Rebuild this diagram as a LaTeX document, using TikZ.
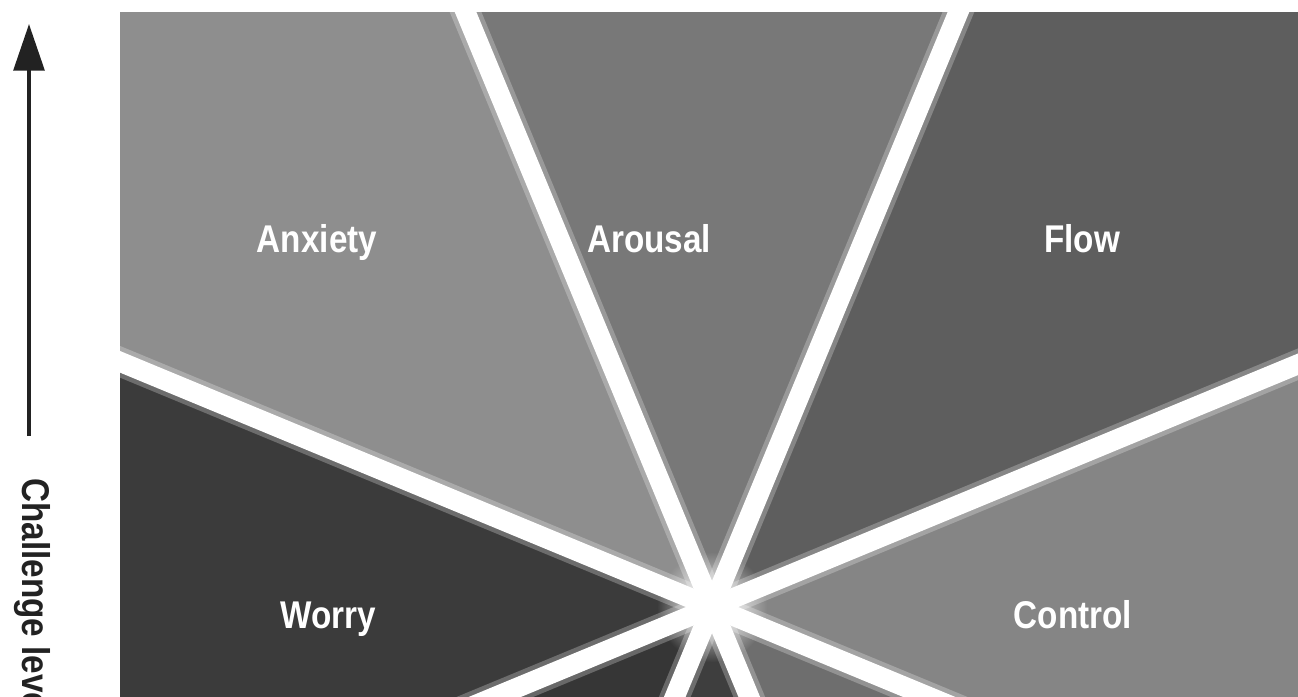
\documentclass[tikz,border=0pt]{standalone}
\usepackage{fontspec}
\newfontfamily\labfont{Liberation Sans}[FakeStretch=0.86]
\usetikzlibrary{arrows.meta,fadings}
\definecolor{cAnx}{HTML}{8E8E8E}
\definecolor{cAro}{HTML}{787878}
\definecolor{cFlow}{HTML}{5E5E5E}
\definecolor{cCtl}{HTML}{858585}
\definecolor{cWor}{HTML}{3B3B3B}
\definecolor{cSW}{HTML}{363636}
\definecolor{cS}{HTML}{3E3E3E}
\definecolor{cSE}{HTML}{6E6E6E}
\definecolor{ink}{HTML}{222222}
\tikzfading[name=glowfade, inner color=transparent!0, outer color=transparent!100]
\tikzset{
  lab/.style={text=white, anchor=base, inner sep=0pt, font=\labfont\bfseries\fontsize{29}{29}\selectfont},
  axislab/.style={text=ink, inner sep=0pt, font=\labfont\bfseries\fontsize{29}{29}\selectfont},
  band/.style={draw=white, line width=15pt},
  halo/.style={draw=white, line width=22pt, opacity=0.25},
}
\newcommand\mysector[3]{\fill[#3] (C) -- +(#1:2000) -- +({(#1+#2)/2}:2000) -- +(#2:2000) -- cycle;}
\begin{document}
\begin{tikzpicture}[x=0.75pt,y=-0.75pt]
\useasboundingbox (0,0) rectangle (1298,696);
\coordinate (C) at (712,607);
\begin{scope}
  \clip (120,12) rectangle (1298,696);
  % sectors (angles in flipped y: negative = up)
  \mysector{22.5}{-22.5}{cCtl}
  \mysector{-22.5}{-67.5}{cFlow}
  \mysector{-67.5}{-112.5}{cAro}
  \mysector{-112.5}{-157.5}{cAnx}
  \mysector{-157.5}{-202.5}{cWor}
  \mysector{157.5}{112.5}{cSW}
  \mysector{112.5}{67.5}{cS}
  \mysector{67.5}{22.5}{cSE}
  % halos and white bands
  \draw[halo] (C) +(22.5:2000) -- +(202.5:2000);
  \draw[halo] (C) +(67.5:2000) -- +(247.5:2000);
  \draw[halo] (C) +(112.5:2000) -- +(292.5:2000);
  \draw[halo] (C) +(157.5:2000) -- +(337.5:2000);
  \draw[band] (C) +(22.5:2000) -- +(202.5:2000);
  \draw[band] (C) +(67.5:2000) -- +(247.5:2000);
  \draw[band] (C) +(112.5:2000) -- +(292.5:2000);
  \draw[band] (C) +(157.5:2000) -- +(337.5:2000);
  \fill[white, path fading=glowfade] (C) circle (55);
  \fill[white] (C) circle (16);
\end{scope}
% labels
\node[lab] (anx) at (317,252) {Anxiety};
\node[lab] (aro) at (649,252) {Arousal};
\node[lab] (flow) at (1082,252) {Flow};
\node[lab] (wor) at (328,628) {Worry};
\node[lab] (ctl) at (1073,628) {Control};
% axis
\coordinate (tip) at (29,24);
\coordinate (tail) at (29,436);
\draw[ink, line width=3pt, -{Triangle[length=35pt,width=23pt]}] (tail) -- (tip);
\node[axislab, rotate=-90, anchor=base west] (ylab) at (22,478) {Challenge level};
\end{tikzpicture}
\end{document}
